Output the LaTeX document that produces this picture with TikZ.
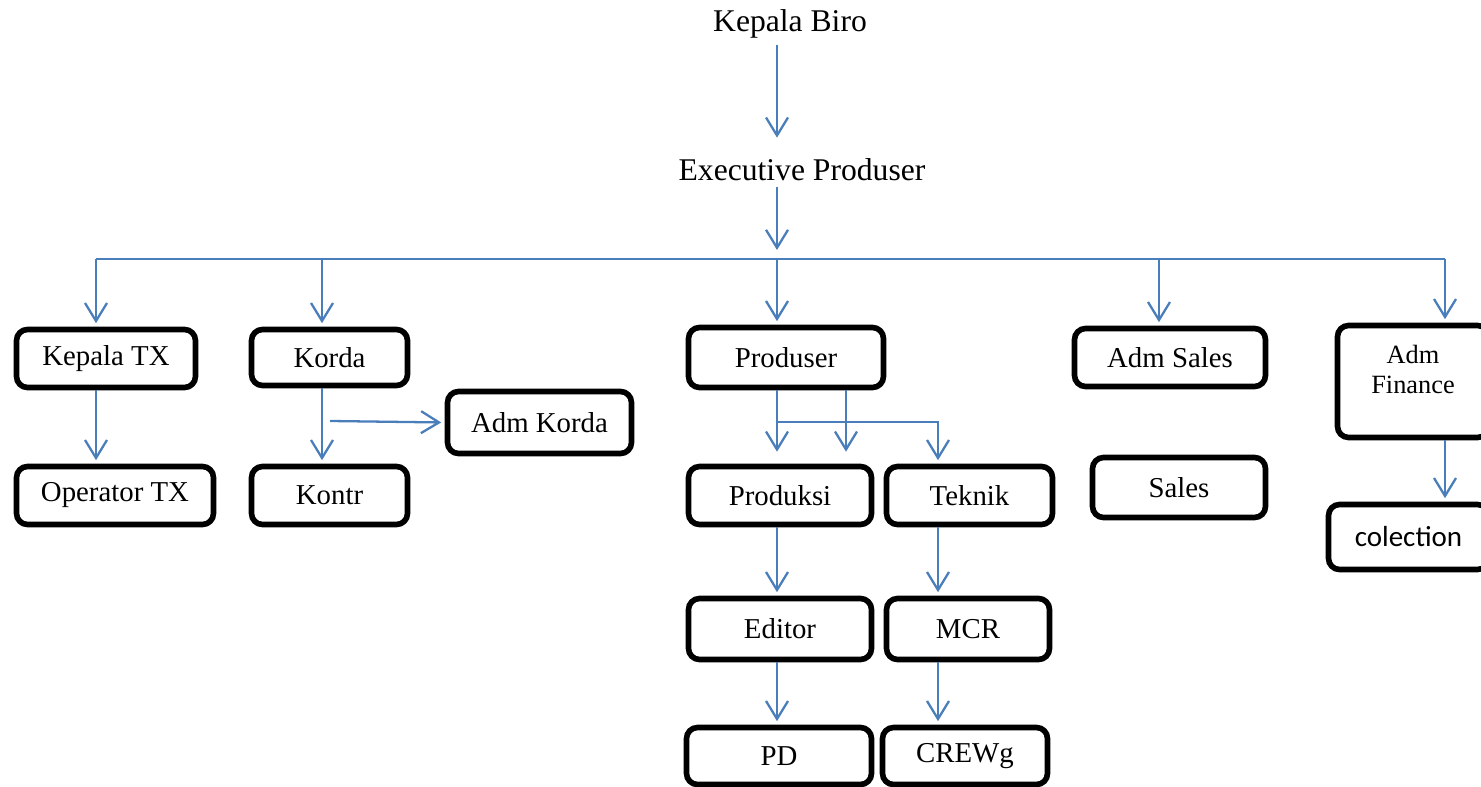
\documentclass[tikz,border=0pt]{standalone}
\usepackage{fontspec}
\setmainfont{Liberation Serif}
\newfontfamily\colfont{Carlito}
\usetikzlibrary{arrows.meta}
\definecolor{linkblue}{RGB}{74,126,187}
\tikzset{>={Straight Barb[length=0.36cm,width=0.44cm,line width=1.3pt]}}
\tikzset{link/.style={draw=linkblue,line width=1.3pt}}
\tikzset{box/.style={draw,line width=3.2pt,rounded corners=0.22cm,font=\fontsize{16.4}{19}\selectfont}}
\tikzset{head/.style={font=\fontsize{18}{22}\selectfont}}

\begin{document}
\begin{tikzpicture}[x=0.02cm,y=-0.02cm]
    \useasboundingbox (0,0) rectangle (1481,787);
    % top
    \node[head](biro) at (790,24){Kepala Biro};
    \node[head](exec) at (802,170){Executive Produser};
    \coordinate (b1) at (96,259);
    \coordinate (b2) at (322,259);
    \coordinate (trunk) at (777,259);
    \coordinate (b4) at (1159,259);
    \coordinate (b5) at (1445,259);
    \coordinate (p2) at (846,422);
    \coordinate (p3) at (938,422);
    % boxes
    \node[box,minimum width=3.58cm,minimum height=1.16cm](ktx) at (106,358.5){Kepala TX};
    \node[box,minimum width=3.12cm,minimum height=1.12cm](korda) at (329.5,357.5){Korda};
    \node[box,minimum width=3.68cm,minimum height=1.24cm](admkorda) at (539.5,422.5){Adm Korda};
    \node[box,minimum width=3.94cm,minimum height=1.16cm](optx) at (115,495.5){Operator TX};
    \node[box,minimum width=3.12cm,minimum height=1.16cm](kontr) at (329.5,495.5){Kontr};
    \node[box,minimum width=3.9cm,minimum height=1.2cm](produser) at (786,357.5){Produser};
    \node[box,minimum width=3.66cm,minimum height=1.16cm](produksi) at (780,495.5){Produksi};
    \node[box,minimum width=3.32cm,minimum height=1.16cm](teknik) at (969.5,495.5){Teknik};
    \node[box,minimum width=3.66cm,minimum height=1.22cm](editor) at (780,629){Editor};
    \node[box,minimum width=3.26cm,minimum height=1.22cm](mcr) at (968,629){MCR};
    \node[box,minimum width=3.7cm,minimum height=1.14cm](pd) at (779,756){PD};
    \node[box,minimum width=3.3cm,minimum height=1.14cm](crew) at (965,756){CREWg};
    \node[box,minimum width=3.82cm,minimum height=1.16cm](admsales) at (1170,357.5){Adm Sales};
    \node[box,minimum width=3.46cm,minimum height=1.2cm](sales) at (1179,487.5){Sales};
    \node[box,minimum width=3.02cm,minimum height=2.24cm,
        label={[font=\fontsize{15}{17}\selectfont,align=center,anchor=north,yshift=-0.33cm]north:Adm\\Finance}](admfin) at (1413,381.5){};
    \node[box,font=\colfont\fontsize{16.5}{20}\selectfont,minimum width=3.2cm,minimum height=1.3cm](colection) at (1408.5,537){colection};
    % links
    \draw[link,->,shorten >=0.3cm](biro.south -| trunk)--(exec.north -| trunk);
    \draw[link,->,shorten >=0.18cm](exec.south -| trunk)--(trunk);
    \draw[link](b1)--(b5);
    \foreach \c/\n in {b1/ktx,b2/korda,trunk/produser,b4/admsales,b5/admfin}
        \draw[link,->,shorten >=2pt](\c)--(\c |- \n.north);
    \draw[link,->,shorten >=2pt](b1 |- ktx.south)--(b1 |- optx.north);
    \draw[link,->,shorten >=2pt](b2 |- korda.south)--(b2 |- kontr.north);
    \draw[link,->,shorten >=2pt](330,421)--(admkorda.west);
    \draw[link,->,shorten >=0.24cm](produser.south -| trunk)--(produksi.north -| trunk);
    \draw[link,->,shorten >=0.24cm](produser.south -| p2)--(produksi.north -| p2);
    \draw[link,->,shorten >=2pt](trunk |- p3)--(p3)--(p3 |- teknik.north);
    \draw[link,->,shorten >=2pt](produksi.south -| trunk)--(editor.north -| trunk);
    \draw[link,->,shorten >=2pt](teknik.south -| p3)--(mcr.north -| p3);
    \draw[link,->,shorten >=2pt](editor.south -| trunk)--(pd.north -| trunk);
    \draw[link,->,shorten >=2pt](mcr.south -| p3)--(crew.north -| p3);
    \draw[link,->,shorten >=2pt](admfin.south -| b5)--(colection.north -| b5);
\end{tikzpicture}
\end{document}
